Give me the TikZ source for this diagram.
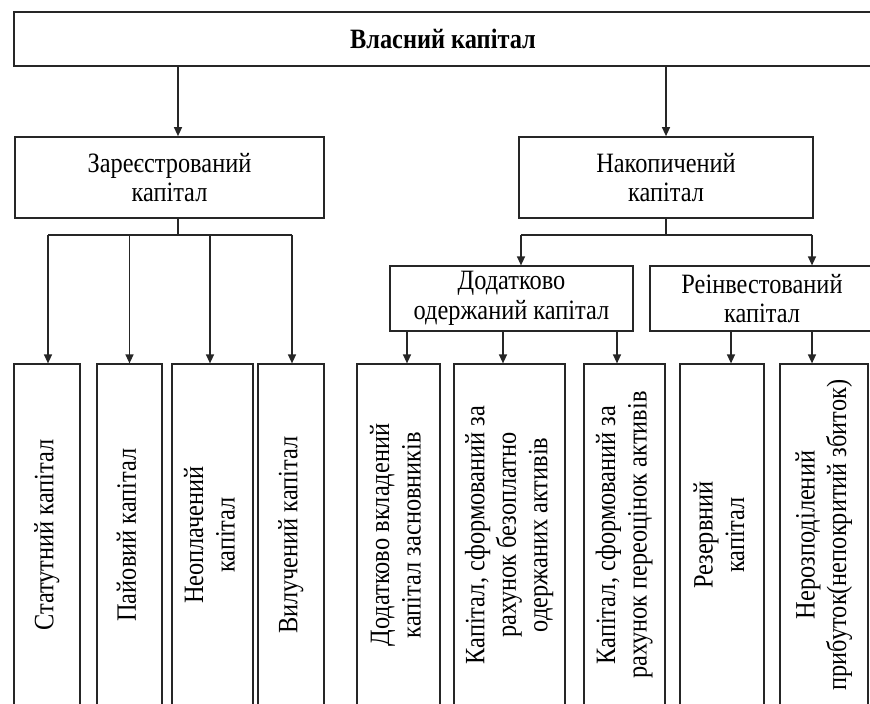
\documentclass[tikz,border=0pt]{standalone}
\usepackage{fontspec}
\setmainfont{Liberation Serif}[FakeStretch=0.87]
\usetikzlibrary{arrows.meta,calc}

\newcommand{\vtext}[1]{\rotatebox{90}{\begin{tabular}{@{}c@{}}#1\end{tabular}}}

\begin{document}
\begin{tikzpicture}[x=1pt,y=-1pt,
    box/.style={draw=black!85,line width=1.7pt,inner sep=0pt,align=center,
                font=\fontsize{28}{29.5}\selectfont},
    subbox/.style={box,line width=1.2pt},
    leaf/.style={subbox,minimum height=342pt,font=\fontsize{28}{31.5}\selectfont},
    ln/.style={draw=black!85,line width=1.3pt},
    arr/.style={ln,-{Triangle[length=9pt,width=8pt]}}]
  \useasboundingbox (0,0) rectangle (870,704);
  \clip (0,0) rectangle (870,704);

  % top level
  \path (443,39) node (own) [box,minimum width=858pt,minimum height=54pt]
        {\bfseries Власний капітал};

  % second level
  \path (169.5,177.5) node (reg) [box,minimum width=309pt,minimum height=81pt]
        {Зареєстрований\\капітал}
        (666,177.5)   node (acc) [box,minimum width=294pt,minimum height=81pt]
        {Накопичений\\капітал};

  % third level
  \path (511.5,298.5) node (add) [subbox,minimum width=243pt,minimum height=65pt]
        {Додатково\\одержаний капітал}
        (762,298.5)   node (rei) [subbox,minimum width=224pt,minimum height=65pt]
        {Реінвестований\\капітал};

  % leaves
  \path (47,535)    node (stat) [leaf,minimum width=66pt]  {\vtext{Статутний капітал}}
        (129.5,535) node (pai)  [leaf,minimum width=65pt]  {\vtext{Пайовий капітал}}
        (212.5,535) node (neo)  [leaf,minimum width=81pt]  {\vtext{Неоплачений\\капітал}}
        (291,535)   node (vyl)  [leaf,minimum width=66pt]  {\vtext{Вилучений капітал}}
        (398.5,535) node (dvk)  [leaf,minimum width=83pt]  {\vtext{Додатково вкладений\\капітал засновників}}
        (509.5,535) node (kbz)  [leaf,minimum width=111pt] {\vtext{Капітал, сформований за\\рахунок безоплатно\\одержаних активів}}
        (624.5,535) node (kpr)  [leaf,minimum width=81pt]  {\vtext{Капітал, сформований за\\рахунок переоцінок активів}}
        (722,535)   node (rez)  [leaf,minimum width=84pt]  {\vtext{Резервний\\капітал}}
        (824,535)   node (ner)  [leaf,minimum width=88pt]  {\vtext{Нерозподілений\\прибуток(непокритий збиток)}};

  % arrows from the top box
  \draw[arr] ([xshift=8.5pt]reg.north |- own.south) -- ([xshift=8.5pt]reg.north);
  \draw[arr] (acc.north |- own.south) -- (acc.north);

  % registered capital
  \coordinate (rbar) at ([xshift=8.5pt,yshift=-16pt]reg.south);
  \draw[ln] ([xshift=8.5pt]reg.south) -- (rbar);
  \draw[ln] ([xshift=1pt]stat.north |- rbar) -- ([xshift=1pt]vyl.north |- rbar);
  \foreach \n/\dx in {stat/1,pai/0,neo/-2.5,vyl/1}
    \draw[arr] ([xshift=\dx pt]\n.north |- rbar) -- ([xshift=\dx pt]\n.north);

  % accumulated capital
  \coordinate (abar) at ([yshift=-16pt]acc.south);
  \draw[ln] (acc.south) -- (abar);
  \draw[ln] ([xshift=9.5pt]add.north |- abar) -- ([xshift=50pt]rei.north |- abar);
  \draw[arr] ([xshift=9.5pt]add.north |- abar) -- ([xshift=9.5pt]add.north);
  \draw[arr] ([xshift=50pt]rei.north |- abar) -- ([xshift=50pt]rei.north);

  % leaves of the third level
  \foreach \n/\dx in {dvk/8.5,kbz/-6.5,kpr/-7.5}
    \draw[arr] ([xshift=\dx pt]\n.north |- add.south) -- ([xshift=\dx pt]\n.north);
  \foreach \n/\dx in {rez/9,ner/-12}
    \draw[arr] ([xshift=\dx pt]\n.north |- rei.south) -- ([xshift=\dx pt]\n.north);
\end{tikzpicture}
\end{document}
